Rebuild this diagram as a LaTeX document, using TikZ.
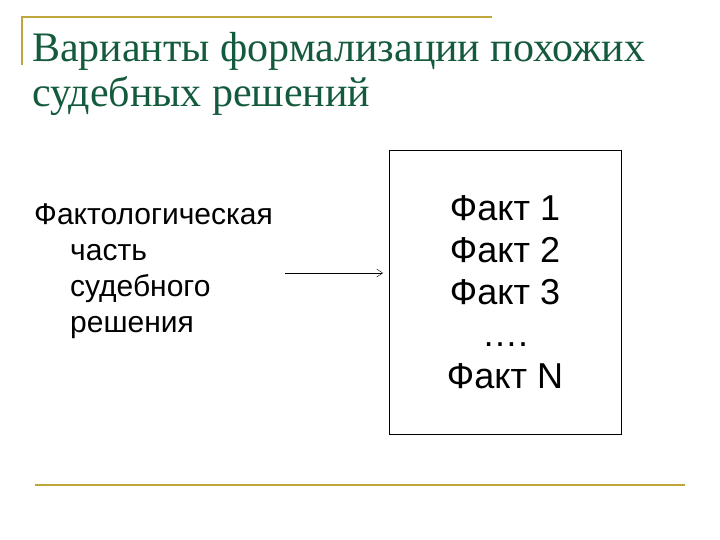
\documentclass[tikz,border=0pt]{standalone}
\usepackage{fontspec}
\usetikzlibrary{arrows.meta}
\setmainfont{Liberation Serif}
\newfontfamily\arial{Liberation Sans}
\definecolor{gold}{RGB}{190,165,60}
\definecolor{ttl}{RGB}{20,90,60}
\begin{document}
\begin{tikzpicture}[x=1pt,y=-1pt]
\useasboundingbox (0,0) rectangle (720,540);
\tikzset{deco/.style={gold,line width=2pt}}
\draw[deco] (22,65) -- (22,17) -- (492,17);
\draw[deco] (35,485) -- (685,485);
\node[anchor=north west,align=left,text=ttl,font=\fontsize{42}{45}\selectfont,inner sep=0] (title) at (32,32) {Варианты формализации похожих\\судебных решений};
\node[anchor=north west,align=left,font=\arial\fontsize{30}{36}\selectfont,inner sep=0] (left) at (34,204) {Фактологическая\\\hspace*{36pt}часть\\\hspace*{36pt}судебного\\\hspace*{36pt}решения};
\node[draw,minimum width=232pt,minimum height=284pt,anchor=north west] (box) at (389,150) {};
\node[align=center,font=\arial\fontsize{36}{42}\selectfont] (facts) at (505,292) {Факт 1\\Факт 2\\Факт 3\\….\\Факт N};
\coordinate (s) at (285,273);
\draw[-{Straight Barb[length=6pt,width=8pt]}] (s) -- (383,273);
\end{tikzpicture}
\end{document}
